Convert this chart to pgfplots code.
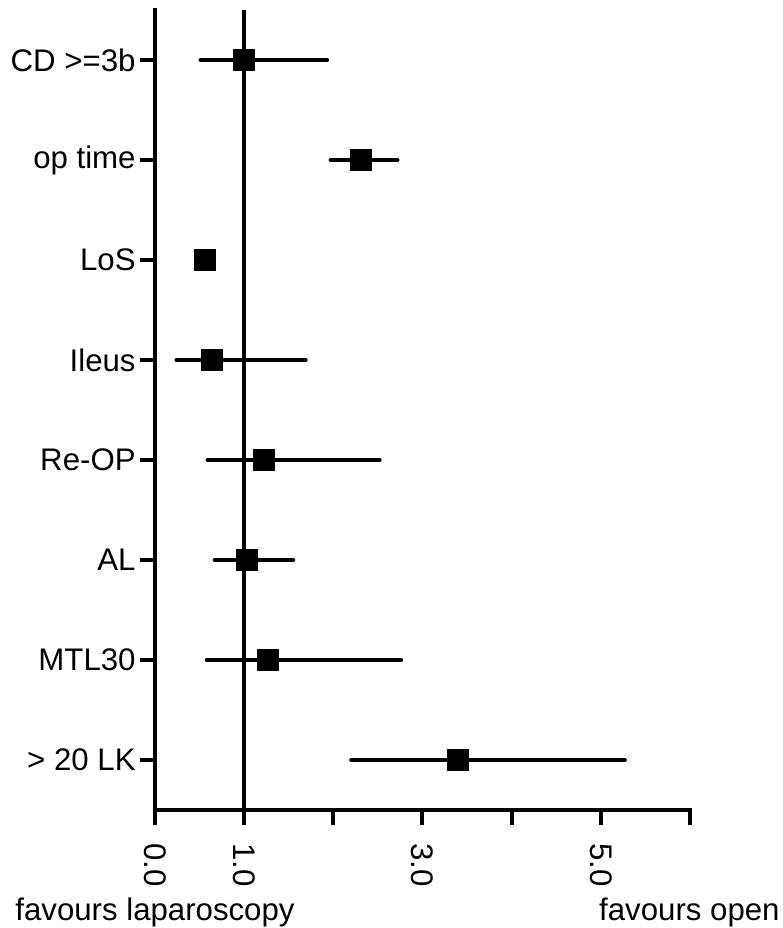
\documentclass[border=0pt]{standalone}
\usepackage{fontspec}
\setmainfont{Liberation Sans}
\usepackage{pgfplots}
\usepackage{pgfplotstable}
\pgfplotsset{compat=1.18}

% row (8 = top) / estimate / lower / upper
\pgfplotstableread{
row est lo hi
8 1.00 0.51 1.93
7 2.31 1.97 2.72
6 0.56 0.52 0.60
5 0.64 0.24 1.69
4 1.22 0.59 2.52
3 1.03 0.67 1.55
2 1.27 0.58 2.76
1 3.40 2.20 5.27
}\forest

\begin{document}
\begin{tikzpicture}
\begin{axis}[
  scale only axis, width=267.5pt, height=400pt,
  xmin=0, xmax=6, ymin=0.5, ymax=8.5,
  axis x line*=bottom, axis y line*=left,
  axis line style={-, line width=2pt, line cap=rect},
  xtick={0,...,6}, xticklabels={0.0,1.0,,3.0,,5.0,},
  ytick={1,...,8},
  yticklabels={> 20 LK,MTL30,AL,Re-OP,Ileus,LoS,op time,CD >=3b},
  tick align=outside, major tick length=7.5pt,
  major tick style={line width=2pt, black},
  tick label style={font=\fontsize{15.6}{18}\selectfont},
  xticklabel style={rotate=-90, anchor=west, inner xsep=9pt},
  yticklabel style={inner xsep=2pt},
  clip=false,
]
\addplot[black, line width=2pt, forget plot] coordinates {(1,0.5) (1,8.5)};
\addplot[only marks, mark=square*, mark size=5.25pt, black,
  error bars/.cd, x dir=both, x explicit, error mark=none,
  error bar style={line width=2pt, line cap=round}]
  table[x=est, y=row,
    x error plus expr=\thisrow{hi}-\thisrow{est},
    x error minus expr=\thisrow{est}-\thisrow{lo}] {\forest};
\end{axis}
\node[anchor=base west, inner sep=0, font=\fontsize{15.6}{18}\selectfont] at (-70pt,-55.5pt) {favours laparoscopy};
\node[anchor=base east, inner sep=0, font=\fontsize{15.6}{18}\selectfont] at (312.5pt,-55.5pt) {favours open};
\pgfresetboundingbox
\path[use as bounding box] (-77.5pt,-59pt) rectangle (314pt,405pt);
\end{tikzpicture}
\end{document}
